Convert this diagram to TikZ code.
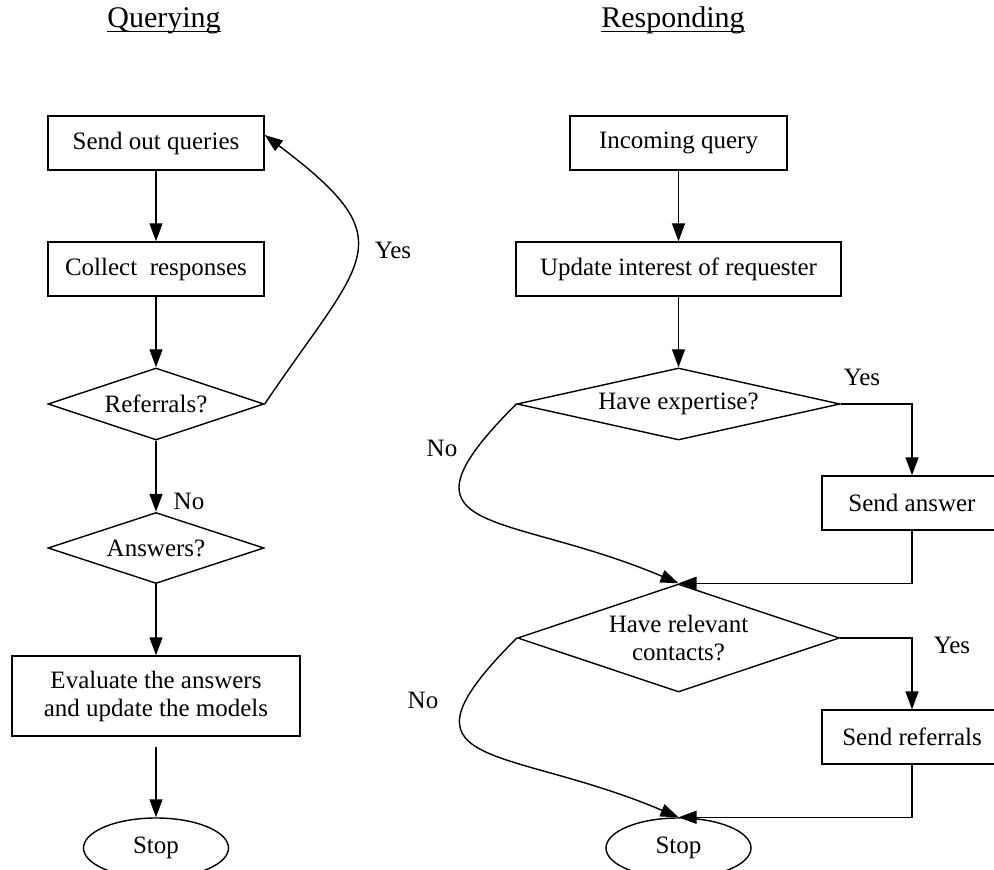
\documentclass[tikz,border=0pt]{standalone}
\usepackage{fontspec}
\setmainfont{Liberation Serif}
\usetikzlibrary{shapes.geometric,arrows.meta}
\begin{document}
\begin{tikzpicture}[x=0.5pt, y=0.5pt, >={Triangle[length=9pt,width=6.5pt]},
    line width=0.7pt, font=\fontsize{12.5}{14}\selectfont,
    proc/.style={rectangle,draw,minimum height=27pt,inner sep=2pt,align=center},
    decide/.style={diamond,draw,aspect=3,inner sep=0pt,align=center},
    term/.style={ellipse,draw,minimum width=72.5pt,minimum height=30pt,inner sep=0pt},
    title/.style={font=\fontsize{15}{18}\selectfont,inner sep=0pt,anchor=base},
    lbl/.style={inner sep=0pt}]

  \useasboundingbox (0,0) rectangle (994,-870);

  % 标题
  \node [title] (tq) at (164,-28) {Querying};
  \node [title] (tr) at (673,-28) {Responding};
  \foreach \t in {tq,tr}
      \draw [line width=0.5pt] ([yshift=-2pt]\t.base west) -- ([yshift=-2pt]\t.base east);

  % 查询
  \node [proc,minimum width=108pt] (sendq) at (156,-143) {Send out queries};
  \node [proc,minimum width=108pt] (collect) at (156,-269) {Collect\ \ responses};
  \node [decide,minimum width=108pt,minimum height=36pt] (refer) at (156,-404) {Referrals?};
  \node [decide,minimum width=108pt,minimum height=35.5pt] (answ) at (156,-548) {Answers?};
  \node [proc,minimum width=144pt,minimum height=40pt] (evalb) at (156,-696) {Evaluate the answers\\and update the models};
  \node [term] (stopL) at (156,-848) {Stop};

  % 应答
  \node [proc,minimum width=108.5pt] (incq) at (678.5,-143) {Incoming query};
  \node [proc,minimum width=162.5pt] (updint) at (678.5,-269) {Update interest of requester};
  \node [decide,aspect=4.5,minimum width=161.5pt,minimum height=36pt] (haveexp) at (678.5,-404) {Have expertise?};
  \node [proc,minimum width=90pt] (sendans) at (912,-503) {Send answer};
  \node [decide,minimum width=161pt,minimum height=54pt] (relcon) at (678.5,-638) {Have relevant\\contacts?};
  \node [proc,minimum width=90pt] (sendref) at (912,-737) {Send referrals};
  \node [term] (stopR) at (678.5,-848) {Stop};

  % 标签
  \node [lbl] (yesL) at (393,-250) {Yes};
  \node [lbl] (noL) at (189,-501) {No};
  \node [lbl] (yesR1) at (862,-377) {Yes};
  \node [lbl] (noR1) at (442,-448) {No};
  \node [lbl] (yesR2) at (952,-645) {Yes};
  \node [lbl] (noR2) at (423,-700) {No};

  % 连接
  \draw [->] (sendq) -- (collect);
  \draw [->] (collect) -- (refer);
  \draw [->] (refer) -- (answ);
  \draw [->] (answ) -- (evalb);
  \draw [->, shorten <=5pt] (evalb) -- (stopL);
  \draw [->] (refer.east) to[out=56,in=-37,looseness=1.7] ([yshift=4pt]sendq.east);

  \draw [->] (incq) -- (updint);
  \draw [->] (updint) -- (haveexp);
  \draw [->] (haveexp.east) -| (sendans);
  \draw [->] (sendans) |- (relcon.north);
  \draw [->] (haveexp.west) to[out=225,in=157,looseness=2] (relcon.north);
  \draw [->] (relcon.east) -| (sendref);
  \draw [->] (sendref) |- (stopR.north);
  \draw [->] (relcon.west) to[out=225,in=157,looseness=2] (stopR.north);

\end{tikzpicture}
\end{document}
